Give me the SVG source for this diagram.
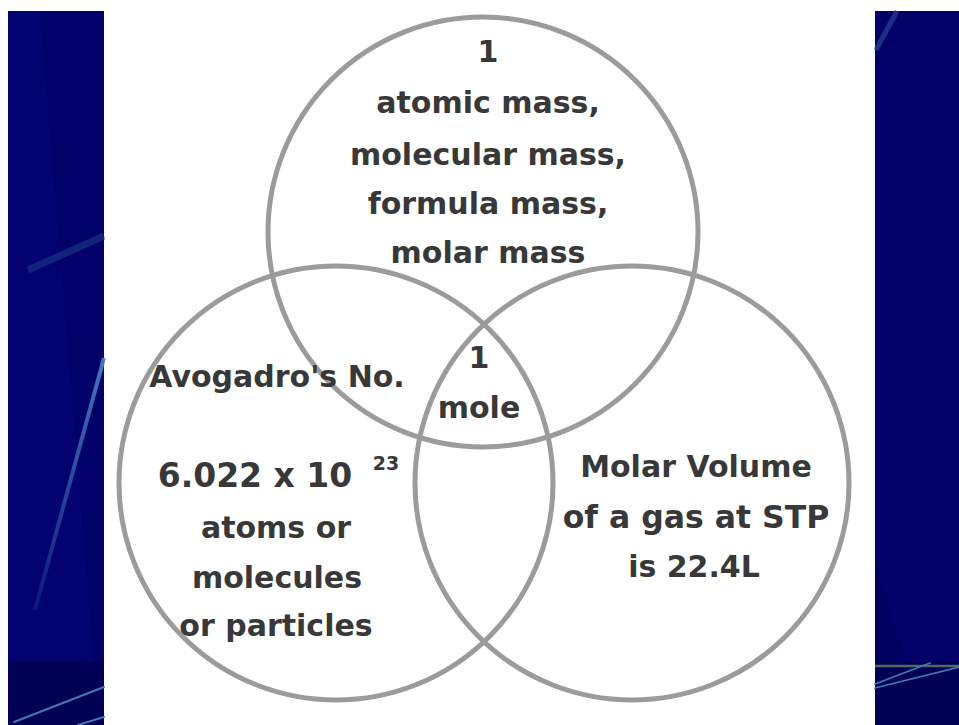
<svg xmlns="http://www.w3.org/2000/svg" width="959" height="725" viewBox="0 0 959 725">
  <style>
    .ring { fill: none; stroke: #9b9b9b; stroke-width: 5; }
    .t { font-family: "DejaVu Sans", "Liberation Sans", sans-serif; font-size: 30px; font-weight: bold; fill: #383838; text-anchor: middle; }
    .sup { font-size: 19px; }
    .streak { stroke: #3f78b8; stroke-linecap: round; fill: none; }
  </style>
  <defs>
    <linearGradient id="fadeDown" x1="0" y1="0" x2="0" y2="1">
      <stop offset="0" stop-color="#4a86c8" stop-opacity="0.9"/>
      <stop offset="1" stop-color="#4a86c8" stop-opacity="0.15"/>
    </linearGradient>
    <linearGradient id="hline" x1="0" y1="0" x2="1" y2="0">
      <stop offset="0" stop-color="#2a3f6a"/>
      <stop offset="1" stop-color="#5f7a64"/>
    </linearGradient>
  </defs>

  <rect x="0" y="0" width="959" height="725" fill="#ffffff"/>

  <!-- background slide strips -->
  <g id="background">
    <rect x="8" y="11" width="96" height="714" fill="#010169"/>
    <polygon points="8,11 40,11 100,725 8,725" fill="#03037a" opacity="0.5"/>
    <rect x="875" y="11" width="84" height="714" fill="#010168"/>
    <polygon points="875,560 904,662 875,662" fill="#000060"/>
    <rect x="8" y="662" width="96" height="63" fill="#000055"/>
    <rect x="875" y="662" width="84" height="63" fill="#000055"/>
    <line x1="8" y1="666" x2="104" y2="666" stroke="url(#hline)" stroke-width="2.5"/>
    <line x1="875" y1="666" x2="959" y2="666" stroke="#4f6a62" stroke-width="2.5"/>
    <line x1="28" y1="270" x2="104" y2="236" stroke="#1f3f8a" stroke-width="7" opacity="0.55"/>
    <line x1="104" y1="358" x2="35" y2="610" stroke="url(#fadeDown)" stroke-width="4"/>
    <line class="streak" x1="104" y1="687" x2="14" y2="722" stroke-width="2"/>
    <line class="streak" x1="104" y1="717" x2="78" y2="725" stroke-width="2"/>
    <line class="streak" x1="930" y1="663" x2="875" y2="684" stroke-width="1.8"/>
    <line class="streak" x1="959" y1="667" x2="875" y2="688" stroke-width="1.8"/>
    <line x1="897" y1="11" x2="876" y2="50" stroke="#2c4f9a" stroke-width="5" opacity="0.6"/>
  </g>

  <g id="connectors"></g>

  <g id="node-mass">
    <circle class="ring" cx="483" cy="232" r="215"/>
    <text class="t" x="488" y="62">1</text>
    <text class="t" x="488" y="113">atomic mass,</text>
    <text class="t" x="488" y="165">molecular mass,</text>
    <text class="t" x="488" y="214">formula mass,</text>
    <text class="t" x="488" y="263">molar mass</text>
  </g>

  <g id="node-avogadro">
    <circle class="ring" cx="336" cy="483" r="217"/>
    <text class="t" x="277" y="387">Avogadro's No.</text>
    <text class="t" x="255" y="487" style="font-size:33px">6.022 x 10</text>
    <text class="t sup" x="386" y="470">23</text>
    <text class="t" x="276" y="538">atoms or</text>
    <text class="t" x="277" y="588">molecules</text>
    <text class="t" x="276" y="636">or particles</text>
  </g>

  <g id="node-volume">
    <circle class="ring" cx="632" cy="483" r="217"/>
    <text class="t" x="696" y="477">Molar Volume</text>
    <text class="t" x="696" y="528" style="font-size:31.5px">of a gas at STP</text>
    <text class="t" x="694" y="577">is 22.4L</text>
  </g>

  <g id="node-mole">
    <text class="t" x="479" y="368">1</text>
    <text class="t" x="479" y="418">mole</text>
  </g>
</svg>
